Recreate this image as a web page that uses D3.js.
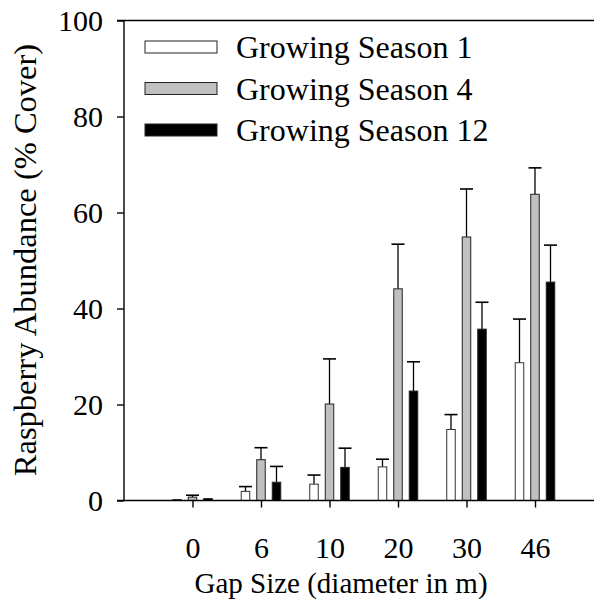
<!DOCTYPE html>
<html>
<head>
<meta charset="utf-8">
<script src="https://cdn.jsdelivr.net/npm/d3@7"></script>
<style>
  html, body { margin: 0; padding: 0; background: #fff; }
  svg { display: block; }
  text { font-family: "Liberation Serif", "Times New Roman", serif; fill: #000; }
</style>
</head>
<body>
<svg id="chart" width="594" height="603"></svg>
<script>
// Gap sizes (diameter in m)
const gapSizes = ["0", "6", "10", "20", "30", "46"];

// Mean raspberry cover (%) per growing season
const season1  = [0.2, 1.9, 3.4, 7.0, 14.8, 28.7];
const season4  = [0.7, 8.5, 20.1, 44.1, 54.9, 63.8];
const season12 = [0.4, 3.8, 6.9, 22.8, 35.7, 45.5];

// Upper error (standard error) per growing season
const season1Err  = [0.0, 1.0, 1.9, 1.6, 3.1, 9.1];
const season4Err  = [0.4, 2.5, 9.4, 9.3, 10.0, 5.5];
const season12Err = [0.0, 3.3, 4.0, 6.1, 5.6, 7.7];

const yTicks = [0, 20, 40, 60, 80, 100];

const seriesNames  = ["Growing Season 1", "Growing Season 4", "Growing Season 12"];
const seriesFills  = ["#ffffff", "#c0c0c0", "#000000"];

const series = [
  { name: seriesNames[0], values: season1,  err: season1Err,  fill: seriesFills[0] },
  { name: seriesNames[1], values: season4,  err: season4Err,  fill: seriesFills[1] },
  { name: seriesNames[2], values: season12, err: season12Err, fill: seriesFills[2] }
];

const svg = d3.select("#chart");

const axisLeft = 124, axisBottom = 500.5, axisTop = 20.5;

// Category positions: one empty slot before the first gap size
const x = d3.scaleLinear().domain([-1, gapSizes.length - 1]).range([axisLeft, 535]);
const y = d3.scaleLinear().domain([0, 100]).range([axisBottom, axisTop]);

const barW = 8.5;
const offsets = [-15.5, 0, 15.5];
const capW = 13;

const plot = svg.append("g");

series.forEach((s, si) => {
  const g = plot.append("g");
  s.values.forEach((v, i) => {
    const cx = x(i) + offsets[si];
    const top = y(v + s.err[i]);
    if (s.err[i] > 0) {
      g.append("line")
        .attr("x1", cx).attr("x2", cx)
        .attr("y1", y(v)).attr("y2", top)
        .attr("stroke", "#000").attr("stroke-width", 1.3);
      g.append("line")
        .attr("x1", cx - capW / 2).attr("x2", cx + capW / 2)
        .attr("y1", top).attr("y2", top)
        .attr("stroke", "#000").attr("stroke-width", 1.6);
    }
    g.append("rect")
      .attr("x", cx - barW / 2)
      .attr("y", y(v))
      .attr("width", barW)
      .attr("height", Math.max(0.8, y(0) - y(v)))
      .attr("fill", s.fill)
      .attr("stroke", si === 0 ? "#333" : "#222")
      .attr("stroke-width", 1);
  });
});

// Axes
const yAxis = d3.axisLeft(y).tickValues(yTicks).tickSize(7).tickPadding(14).tickFormat(d3.format("d"));
const gy = svg.append("g").attr("transform", `translate(${axisLeft},0)`).call(yAxis);
gy.attr("font-family", null);
gy.select(".domain").attr("stroke", "#000").attr("stroke-width", 1.4)
  .attr("d", `M0,${axisTop}V${axisBottom}`);
gy.selectAll(".tick line").attr("stroke", "#000").attr("stroke-width", 1.4);
gy.selectAll(".tick text").style("font-size", "30px");

const xAxis = d3.axisBottom(x).tickValues(d3.range(gapSizes.length))
  .tickFormat(i => gapSizes[i]).tickSize(7).tickPadding(29);
const gx = svg.append("g").attr("transform", `translate(0,${axisBottom})`).call(xAxis);
gx.attr("font-family", null);
gx.select(".domain").attr("stroke", "#000").attr("stroke-width", 1.4)
  .attr("d", `M117,0H594`);
gx.selectAll(".tick line").attr("stroke", "#000").attr("stroke-width", 1.4);
gx.selectAll(".tick text").style("font-size", "30px");

// Top frame line
svg.append("line")
  .attr("x1", 117).attr("x2", 594)
  .attr("y1", y(100)).attr("y2", y(100))
  .attr("stroke", "#000").attr("stroke-width", 1.4);

// Axis titles
svg.append("text")
  .attr("x", 341).attr("y", 593)
  .attr("text-anchor", "middle")
  .style("font-size", "29px")
  .text("Gap Size (diameter in m)");

svg.append("text")
  .attr("transform", "translate(36,260) rotate(-90)")
  .attr("text-anchor", "middle")
  .style("font-size", "32.5px")
  .text("Raspberry Abundance (% Cover)");

// Legend
const legend = svg.append("g");
series.forEach((s, i) => {
  const ly = 47 + i * 41.5;
  legend.append("rect")
    .attr("x", 145).attr("y", ly - 6)
    .attr("width", 72).attr("height", 12)
    .attr("fill", s.fill)
    .attr("stroke", "#222").attr("stroke-width", 1);
  legend.append("text")
    .attr("x", 236).attr("y", ly + 11)
    .style("font-size", "32px")
    .text(s.name);
});
</script>
</body>
</html>
